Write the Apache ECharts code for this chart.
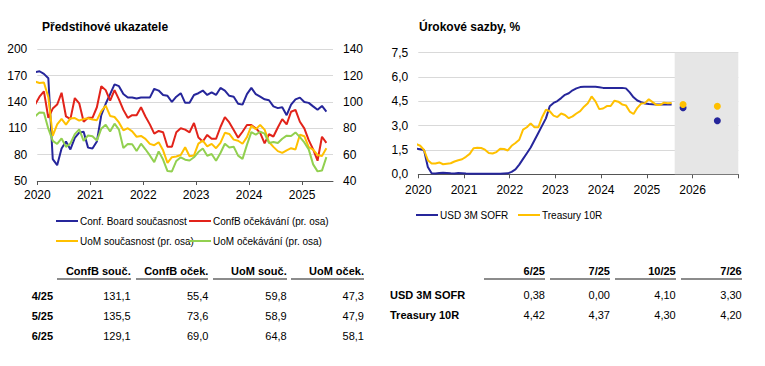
<!DOCTYPE html>
<html><head><meta charset="utf-8">
<script src="https://cdn.jsdelivr.net/npm/echarts@6/dist/echarts.min.js"></script>
<style>
html,body{margin:0;padding:0;background:#fff;}
#c{position:absolute;left:0;top:0;width:765px;height:366px;}
.t{position:absolute;font-family:"Liberation Sans Narrow","Arial Narrow","Liberation Sans",Arial,sans-serif;font-size:11px;line-height:14px;color:#000;white-space:nowrap;}
.b{font-weight:bold;}
.r{text-align:right;}
.u{position:absolute;height:2px;background:#8c8c8c;}
</style></head><body>
<div id="c"></div>
<div id="tables"></div>
<script>
// ---------- DATA ----------
// Left chart: monthly, Dec 2019 .. Jun 2025
const confbCurrent = [174,
 175,172,167,75,68,87,95,86,99,105,106,88,
 87,95,125,138,149,160,158,149,145,145,144,145,
 145,145,155,153,148,147,140,146,150,139,139,148,
 150,153,148,151,148,156,153,147,146,138,137,149,
 156,149,146,143,142,135,133,134,125,137,143,145,
 140,139,135,131.1,135.5,129.1];
const confbExpect = [98,
 104,108,88,95,98,107,89,87,103,99,85,88,
 88,96,112,109,101,109,102,94,88,90,90,96,
 89,83,76,78,77,66,66,77,80,79,77,84,
 73,70,75,72,72,81,88.5,84.5,78.7,72.9,77.4,82.5,
 82.5,80,76.6,68.6,75.5,73.8,80.6,87,83,92.6,94,85,
 80,71,64,55.4,73.6,69.0];
const uomCurrent = [115.5,
 114.4,114.8,103.7,74.3,83.0,87.1,82.8,87.5,87.8,85.9,87.0,87.7,
 86.7,86.2,93.0,97.2,89.4,88.6,84.5,78.5,80.1,77.7,73.6,74.2,
 72.0,68.2,67.2,69.4,63.3,53.8,58.1,58.6,59.7,65.6,58.8,59.4,
 68.4,70.7,66.3,68.2,64.9,69.0,76.6,75.7,71.4,70.6,68.3,73.3,
 81.9,79.4,82.5,79.0,69.6,65.9,62.7,61.3,63.3,64.9,63.9,75.1,
 74.0,65.7,63.8,59.8,58.9,64.8];
const uomExpect = [88.9,
 92.1,91.8,79.7,70.5,68.1,72.3,65.9,68.5,75.6,79.2,70.5,74.6,
 74.0,70.7,79.7,82.7,77.6,83.5,79.0,65.1,68.1,67.9,62.8,68.3,
 64.1,59.4,54.3,62.5,56.3,47.5,47.3,55.2,58.0,56.2,55.6,58.0,
 62.0,64.7,59.2,60.5,55.4,61.3,68.3,65.5,66.0,59.3,56.8,67.4,
 77.1,75.2,77.4,76.0,68.8,69.6,68.8,72.1,74.4,74.1,76.9,73.3,
 69.3,64.0,52.6,47.3,47.9,58.1];
const leftNames = ['Conf. Board současnost','ConfB očekávání (pr. osa)','UoM současnost (pr. osa)','UoM očekávání (pr. osa)'];

// Right chart: monthly, Dec 2019 .. Jul 2025
const sofr3m = [1.58,
 1.55,1.5,0.45,0.06,0.05,0.08,0.1,0.08,0.06,0.05,0.08,0.07,
 0.05,0.04,0.04,0.03,0.03,0.03,0.03,0.03,0.03,0.04,0.05,0.06,
 0.15,0.3,0.6,0.95,1.3,1.65,2.1,2.55,3.0,3.45,4.2,4.4,
 4.52,4.7,4.9,5.0,5.18,5.3,5.38,5.4,5.4,5.4,5.4,5.37,
 5.33,5.33,5.33,5.33,5.33,5.33,5.3,5.05,4.75,4.55,4.45,4.37,
 4.33,4.32,4.3,4.3,4.31,4.31,4.3];
const tsy10 = [1.86,
 1.76,1.50,0.87,0.66,0.67,0.73,0.62,0.65,0.68,0.79,0.87,0.93,
 1.08,1.26,1.61,1.64,1.62,1.52,1.32,1.28,1.37,1.58,1.56,1.47,
 1.76,1.93,2.13,2.75,2.90,3.14,2.90,2.90,3.52,3.98,3.89,3.62,
 3.53,3.75,3.66,3.46,3.57,3.75,3.90,4.17,4.38,4.80,4.50,4.02,
 4.06,4.21,4.21,4.54,4.48,4.31,4.25,3.87,3.72,4.10,4.36,4.39,
 4.63,4.45,4.28,4.28,4.42,4.38,4.39];
const forecastMonths = ['2025-10','2026-07'];
const sofrForecast = [4.10, 3.30];
const tsyForecast = [4.30, 4.20];
const rightNames = ['USD 3M SOFR','Treasury 10R'];

// Tables
const tLeftHeaders = ['ConfB souč.','ConfB oček.','UoM souč.','UoM oček.'];
const tLeftRows = ['4/25','5/25','6/25'];
const tLeftValues = [[131.1,55.4,59.8,47.3],[135.5,73.6,58.9,47.9],[129.1,69.0,64.8,58.1]];
const tRightHeaders = ['6/25','7/25','10/25','7/26'];
const tRightRows = ['USD 3M SOFR','Treasury 10R'];
const tRightValues = [[0.38,0.00,4.10,3.30],[4.42,4.37,4.30,4.20]];

// ---------- CHART ----------
const FONT = '"Liberation Sans Narrow","Arial Narrow","Liberation Sans",Arial,sans-serif';
const BLUE = '#26269b', RED = '#e2231a', YEL = '#ffc000', GRN = '#92d050';
// series start in Dec 2019, drawn at mid-month (months since Jan 2020)
const toXY = arr => arr.map((v, i) => [i - 0.5, v]);
const monthPos = s => { const [y, m] = s.split('-').map(Number); return (y - 2020) * 12 + (m - 1) + 0.5; };
const comma = (v, d) => v.toFixed(d).replace('.', ',');

const chart = echarts.init(document.getElementById('c'), null, {renderer: 'svg', width: 765, height: 366});
const lineS = (name, data, color, xi, yi) => ({
  type: 'line', name, data: toXY(data), xAxisIndex: xi, yAxisIndex: yi,
  showSymbol: false, symbol: 'none', lineStyle: {width: 2, color}, itemStyle: {color},
  animation: false, clip: true
});
const legendItem = (name, left, top) => ({
  data: [name], left, top, padding: 0, itemWidth: 22, itemHeight: 2, icon: 'rect', itemGap: 0,
  textStyle: {fontFamily: FONT, fontSize: 10, color: '#000', padding: [0, 0, 0, -3]}, selectedMode: false
});
const yearTicks = [0, 12, 24, 36, 48, 60, 72];
const AX = 12;

chart.setOption({
  animation: false,
  textStyle: {fontFamily: FONT},
  title: [
    {text: 'Předstihové ukazatele', left: 37, top: 16, textStyle: {fontFamily: FONT, fontSize: 12, fontWeight: 'bold', color: '#000'}},
    {text: 'Úrokové sazby, %', left: 414, top: 16, textStyle: {fontFamily: FONT, fontSize: 12, fontWeight: 'bold', color: '#000'}}
  ],
  legend: [
    legendItem(leftNames[0], 56, 216), legendItem(leftNames[1], 189, 216),
    legendItem(leftNames[2], 56, 236), legendItem(leftNames[3], 189, 236),
    legendItem(rightNames[0], 416, 210), legendItem(rightNames[1], 518, 210)
  ],
  grid: [
    {left: 37.3, right: 432, top: 49.3, bottom: 185},
    {left: 418.3, right: 26.7, top: 52.7, bottom: 191.7}
  ],
  xAxis: [
    {type: 'value', gridIndex: 0, min: 0, max: 67, interval: 12,
     axisLine: {show: true, lineStyle: {color: '#555', width: 1}},
     axisTick: {show: true, length: 4, customValues: yearTicks.slice(0, 6), lineStyle: {color: '#555'}},
     axisLabel: {customValues: yearTicks.slice(0, 6), margin: 8, fontSize: AX, color: '#000', fontFamily: FONT,
       formatter: v => String(2020 + Math.round(v / 12))},
     splitLine: {show: false}},
    {type: 'value', gridIndex: 1, min: 0, max: 84, interval: 12,
     axisLine: {show: true, lineStyle: {color: '#555', width: 1}},
     axisTick: {show: true, length: 4, lineStyle: {color: '#555'}},
     axisLabel: {customValues: yearTicks, margin: 10, fontSize: AX, color: '#000', fontFamily: FONT,
       formatter: v => v >= 84 ? '' : String(2020 + Math.round(v / 12))},
     splitLine: {show: false}}
  ],
  yAxis: [
    {type: 'value', gridIndex: 0, min: 50, max: 200, interval: 30, position: 'left',
     axisLine: {show: false}, axisTick: {show: false},
     axisLabel: {margin: 10, fontSize: AX, color: '#000', fontFamily: FONT},
     splitLine: {show: true, lineStyle: {color: '#d9d9d9', width: 1}}},
    {type: 'value', gridIndex: 0, min: 40, max: 140, interval: 20, position: 'right',
     axisLine: {show: false}, axisTick: {show: false},
     axisLabel: {margin: 10, fontSize: AX, color: '#000', fontFamily: FONT},
     splitLine: {show: false}},
    {type: 'value', gridIndex: 1, min: 0, max: 7.5, interval: 1.5,
     axisLine: {show: false}, axisTick: {show: false},
     axisLabel: {margin: 10, fontSize: AX, color: '#000', fontFamily: FONT, formatter: v => comma(v, 1)},
     splitLine: {show: true, lineStyle: {color: '#d9d9d9', width: 1}}}
  ],
  series: [
    lineS(leftNames[0], confbCurrent, BLUE, 0, 0),
    lineS(leftNames[1], confbExpect, RED, 0, 1),
    lineS(leftNames[2], uomCurrent, YEL, 0, 1),
    lineS(leftNames[3], uomExpect, GRN, 0, 1),
    Object.assign(lineS(rightNames[0], sofr3m, BLUE, 1, 2), {
      markArea: {silent: true, itemStyle: {color: '#e6e6e6'}, data: [[{xAxis: 67.3}, {xAxis: 84}]]}
    }),
    lineS(rightNames[1], tsy10, YEL, 1, 2),
    {type: 'scatter', name: 'SOFR prognóza', xAxisIndex: 1, yAxisIndex: 2, symbolSize: 7,
     itemStyle: {color: BLUE, opacity: 1}, data: forecastMonths.map((m, i) => [monthPos(m), sofrForecast[i]])},
    {type: 'scatter', name: 'Treasury prognóza', xAxisIndex: 1, yAxisIndex: 2, symbolSize: 7,
     itemStyle: {color: YEL, opacity: 1}, data: forecastMonths.map((m, i) => [monthPos(m), tsyForecast[i]])}
  ]
});

// ---------- TABLES ----------
const host = document.getElementById('tables');
function txt(s, x, yc, cls, alignRight) {
  const d = document.createElement('div');
  d.className = 't ' + cls;
  d.textContent = s;
  if (alignRight) { d.style.right = (765 - x) + 'px'; d.classList.add('r'); }
  else d.style.left = x + 'px';
  d.style.top = (yc - 7) + 'px';
  host.appendChild(d);
}
function uline(x1, x2, y) {
  const d = document.createElement('div');
  d.className = 'u';
  d.style.left = x1 + 'px'; d.style.width = (x2 - x1) + 'px'; d.style.top = (y - 1) + 'px';
  host.appendChild(d);
}
const lColR = [130.7, 208.3, 286.7, 364], lColL = [57.3, 135.7, 213.3, 291];
tLeftHeaders.forEach((h, j) => { txt(h, lColR[j], 271, 'b', true); uline(lColL[j], lColR[j], 279); });
tLeftRows.forEach((r, i) => {
  const y = 295.7 + i * 20;
  txt(r, 31.7, y, 'b', false);
  tLeftValues[i].forEach((v, j) => txt(comma(v, 1), lColR[j], y, '', true));
});
const rColR = [545, 610, 675.7, 741.7], rColL = [484, 550, 615, 681];
tRightHeaders.forEach((h, j) => { txt(h, rColR[j], 271, 'b', true); uline(rColL[j], rColR[j], 279.3); });
tRightRows.forEach((r, i) => {
  const y = 295 + i * 20;
  txt(r, 390, y, 'b', false);
  tRightValues[i].forEach((v, j) => txt(comma(v, 2), rColR[j], y, '', true));
});
</script>
</body></html>
